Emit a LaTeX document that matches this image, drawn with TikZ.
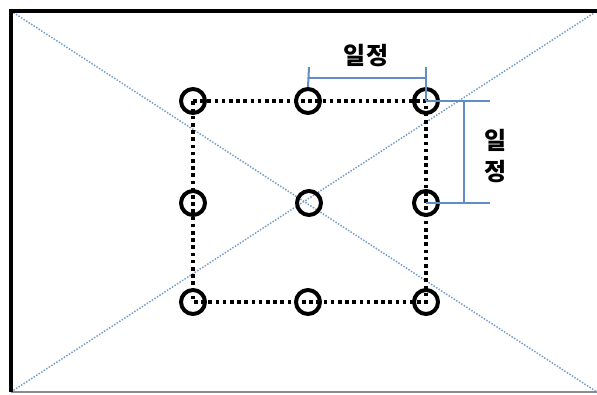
\documentclass[tikz,border=0pt]{standalone}
\usepackage{fontspec}
\newfontfamily\kr{Noto Sans CJK KR}[BoldFont={* Black}]
\definecolor{dimblue}{RGB}{96,142,196}
\definecolor{diagblue}{RGB}{120,160,200}
\begin{document}
\begin{tikzpicture}[x=1pt,y=-1pt,
  pt/.style={circle,draw=black,line width=4pt,minimum size=24pt,inner sep=0pt},
  dots/.style={line width=4pt,dash pattern=on 3.6pt off 3.6pt,black},
  diag/.style={diagblue,line width=1.5pt,dash pattern=on 1.5pt off 1.5pt},
  dimline/.style={dimblue,line width=2pt},
  lbl/.style={font=\kr\bfseries\fontsize{24}{26}\selectfont,inner sep=0pt}]
\useasboundingbox (0,0) rectangle (597,394);
% frame
\coordinate (TL) at (11,11);
\coordinate (TR) at (597,11);
\coordinate (BL) at (11,392);
\coordinate (BR) at (597,392);
\draw[diag] (TL) -- (BR);
\draw[diag] (BL) -- (TR);
\draw[black!45,line width=1.5pt] (BL) -- (BR);
\draw[black,line width=3.6pt] (BL) -- (TL) -- (TR);
% points
\coordinate (a) at (193,101);
\coordinate (b) at (308,101);
\coordinate (c) at (426,101);
\coordinate (d) at (193,203);
\coordinate (e) at (309,203);
\coordinate (f) at (426,203);
\coordinate (g) at (193,302);
\coordinate (h) at (308,302);
\coordinate (i) at (426,302);
\draw[dots] (a) -- (c) -- (i) -- (g) -- cycle;
\foreach \n in {a,b,c,d,e,f,g,h,i} \node[pt] (n\n) at (\n) {};
% top dimension
\coordinate (t1) at (309,67);
\coordinate (t2) at (426,67);
\coordinate (h1) at (309,78);
\coordinate (h2) at (426,78);
\draw[dimline] (t1) -- (nb.north);
\draw[dimline] (t2) -- (c);
\draw[dimline] (h1) -- (h2);
\node[lbl] (top) at (366,56) {일정};
% right dimension
\coordinate (r1) at (490,101);
\coordinate (r2) at (490,203);
\coordinate (v1) at (464,101);
\coordinate (v2) at (464,203);
\draw[dimline] (c) -- (r1);
\draw[dimline] (f) -- (r2);
\draw[dimline] (v1) -- (v2);
\node[lbl] (r1l) at (496,140) {일};
\node[lbl] (r2l) at (496,172) {정};
\end{tikzpicture}
\end{document}
